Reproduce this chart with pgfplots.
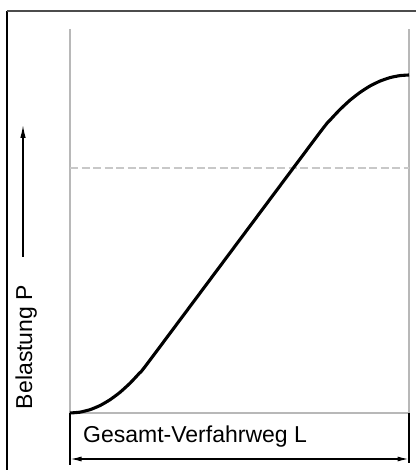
\documentclass[border=0pt]{standalone}
\usepackage{pgfplots}
\pgfplotsset{compat=1.18}
\usepackage{fontspec}
\setmainfont{Liberation Sans}
\usetikzlibrary{arrows.meta}
\definecolor{axgray}{HTML}{B8B8B8}
\definecolor{dashgray}{HTML}{C8C8C8}
\begin{document}
\begin{tikzpicture}[x=1pt,y=1pt]
\useasboundingbox (0,0) rectangle (416,470);
% outer frame (cropped)
\draw[black, line width=1.2pt] (7,0) -- (7,459);
\draw[black!70, line width=1.4pt] (7,459) -- (416,459);
\begin{axis}[
  at={(70pt,57pt)}, anchor=south west,
  scale only axis, width=339pt, height=384pt,
  xmin=0, xmax=339, ymin=0, ymax=384,
  hide axis, clip=false,
]
\draw[axgray, line width=1.1pt] (axis cs:0,384) -- (axis cs:0,0) -- (axis cs:339,0) -- (axis cs:339,384);
\addplot[dashgray, line width=1.1pt, dash pattern=on 8pt off 3.5pt] coordinates {(0,245) (339,245)};
\addplot[black, line width=3.1pt, smooth, tension=0.3] coordinates {
(0,0) (10,0.83) (20,3.31) (30,7.44) (40,13.24) (50,20.68) (60,29.78) (70,40.53) (81,54.27)
(246.5,276.04) (260,292.8) (270,303.5) (280,312.8) (290,320.6) (300,327.0) (310,331.9) (320,335.4) (330,337.4) (339,338)
};
\end{axis}
% bottom dimension box
\draw[black, line width=1.2pt] (70,57) -- (70,5);
\draw[black, line width=1.2pt] (409,57) -- (409,7);
\draw[black, line width=1.2pt, {Latex[length=11pt,width=5pt]}-{Latex[length=11pt,width=5pt]}] (70.5,11) -- (408.5,11);
\node[anchor=base west, inner sep=0pt, font=\fontsize{23}{27}\selectfont] at (83,27) {Gesamt-Verfahrweg L};
% y label and arrow
\draw[black, line width=1.3pt, -{Latex[length=13pt,width=5.5pt]}] (23,213) -- (23,345);
\node[rotate=90, anchor=base, inner sep=0pt, font=\fontsize{23}{27}\selectfont] at (32,123) {Belastung P};
\end{tikzpicture}
\end{document}
